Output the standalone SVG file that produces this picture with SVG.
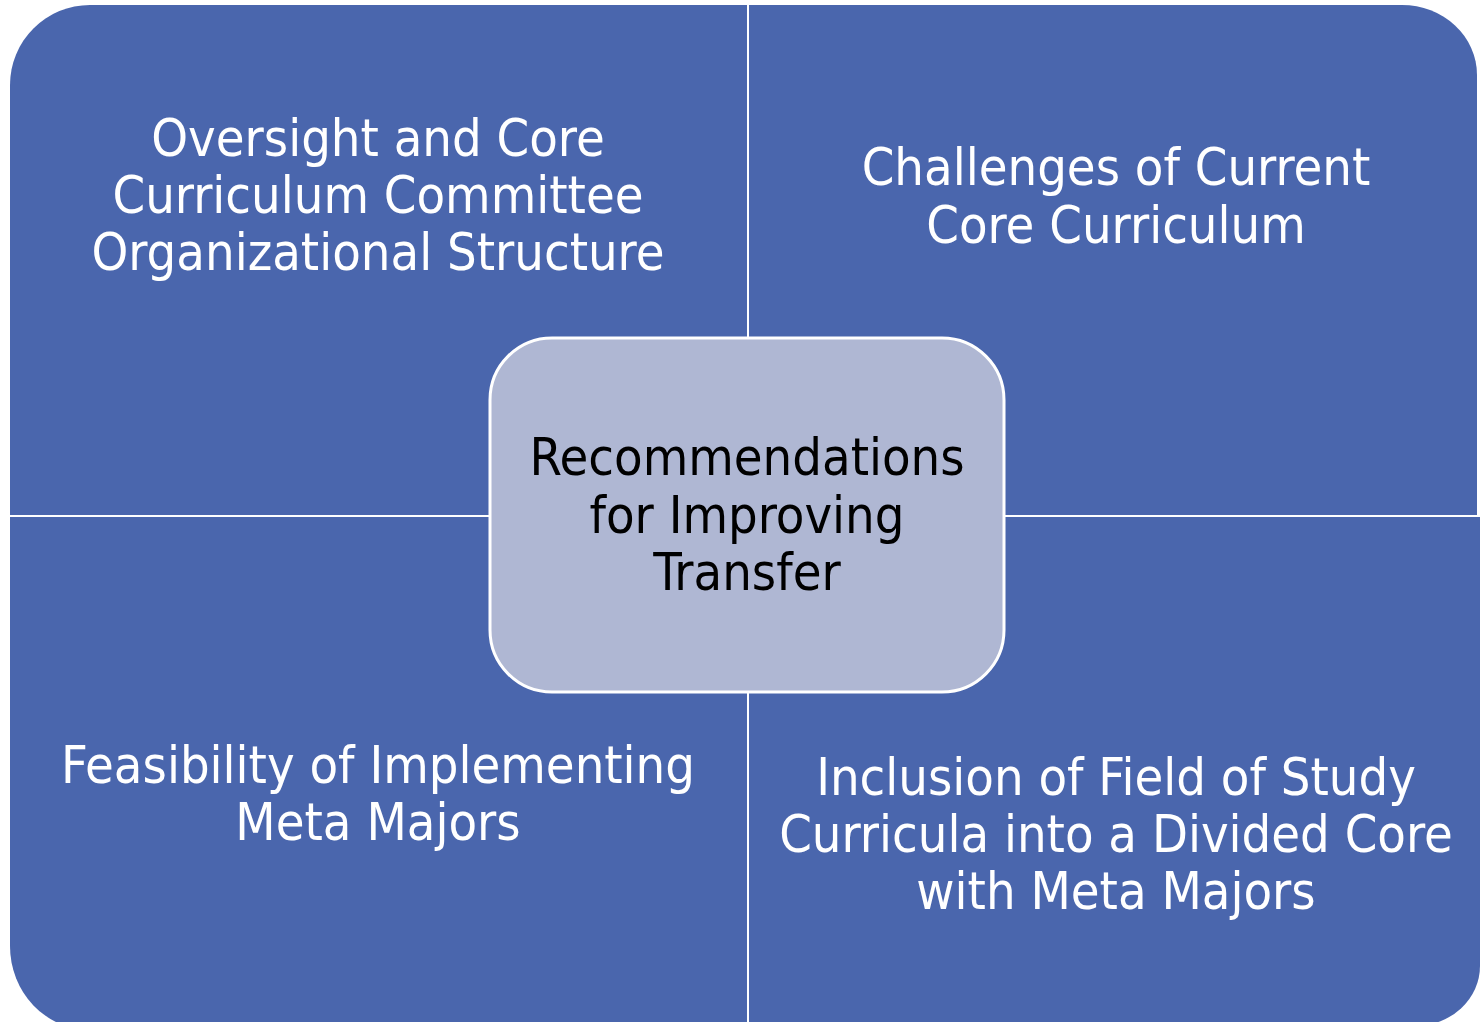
<svg xmlns="http://www.w3.org/2000/svg" width="1480" height="1022" viewBox="0 0 1480 1022">
  <style>
    .quad { fill: #4a66ad; }
    .label { font-family: "DejaVu Sans Condensed", "DejaVu Sans", sans-serif; font-stretch: condensed; font-size: 52px; text-anchor: middle; }
    .light { fill: #ffffff; }
    .dark { fill: #000000; }
    .hub { fill: #afb7d3; stroke: #ffffff; stroke-width: 3; }
  </style>
  <rect width="1480" height="1022" fill="#ffffff"/>

  <!-- four quadrants, each with one rounded outer corner -->
  <g id="node-oversight">
    <path class="quad" d="M10,515 V85 A80,80 0 0 1 90,5 H747 V515 Z"/>
    <text class="label light" x="378" y="156">Oversight and Core</text>
    <text class="label light" x="378" y="213">Curriculum Committee</text>
    <text class="label light" x="378" y="270">Organizational Structure</text>
  </g>

  <g id="node-challenges">
    <path class="quad" d="M749,5 H1402 A75,70 0 0 1 1477,75 V515 H749 Z"/>
    <text class="label light" x="1116" y="185">Challenges of Current</text>
    <text class="label light" x="1116" y="243">Core Curriculum</text>
  </g>

  <g id="node-feasibility">
    <path class="quad" d="M10,517 H747 V1030 H90 A80,84 0 0 1 10,946 Z"/>
    <text class="label light" x="378" y="783">Feasibility of Implementing</text>
    <text class="label light" x="378" y="840">Meta Majors</text>
  </g>

  <g id="node-inclusion">
    <path class="quad" d="M749,517 H1480 V966 A65,60 0 0 1 1415,1026 H749 Z"/>
    <text class="label light" x="1116" y="795">Inclusion of Field of Study</text>
    <text class="label light" x="1116" y="852">Curricula into a Divided Core</text>
    <text class="label light" x="1116" y="909">with Meta Majors</text>
  </g>

  <!-- central hub -->
  <g id="node-recommendations">
    <rect class="hub" x="490" y="338" width="514" height="354" rx="62" ry="62"/>
    <text class="label dark" x="747" y="475">Recommendations</text>
    <text class="label dark" x="747" y="533">for Improving</text>
    <text class="label dark" x="747" y="590">Transfer</text>
  </g>

  <g id="connectors"></g>
</svg>
